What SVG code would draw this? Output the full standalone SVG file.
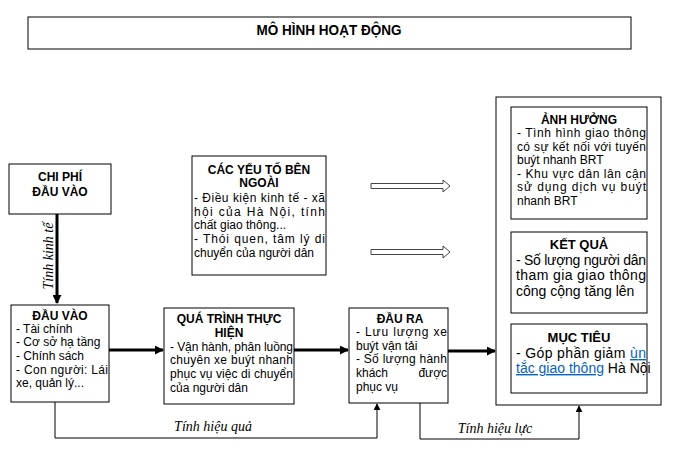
<svg xmlns="http://www.w3.org/2000/svg" width="678" height="457" viewBox="0 0 678 457">
<style>
.box{fill:#fff;stroke:#000;stroke-width:1}
.t{font-family:"Liberation Sans",Arial,sans-serif;font-size:12px;fill:#000}
.tb{font-family:"Liberation Sans",Arial,sans-serif;font-size:12px;font-weight:bold;fill:#000;text-anchor:middle}
.t14{font-family:"Liberation Sans",Arial,sans-serif;font-size:14px;fill:#000}
.tb13{font-family:"Liberation Sans",Arial,sans-serif;font-size:13px;font-weight:bold;fill:#000;text-anchor:middle}
.it{font-family:"Liberation Serif","Times New Roman",serif;font-size:14px;font-style:italic;fill:#000}
.thick{stroke:#000;stroke-width:3;fill:none}
.thin{stroke:#000;stroke-width:1;fill:none}
.hollow{fill:#fff;stroke:#444;stroke-width:1}
.link{fill:#0563C1;text-decoration:underline}
</style>
<defs>
<marker id="ah" viewBox="0 0 10 10" refX="9" refY="5" markerWidth="9" markerHeight="9" markerUnits="userSpaceOnUse" orient="auto">
<path d="M0,0 L10,5 L0,10 z" fill="#000"/>
</marker>
<marker id="as" viewBox="0 0 10 10" refX="9" refY="5" markerWidth="7" markerHeight="7" markerUnits="userSpaceOnUse" orient="auto">
<path d="M0,0 L10,5 L0,10 z" fill="#000"/>
</marker>
</defs>

<g id="title">
<rect class="box" x="28" y="17" width="603" height="32"/>
<text x="329" y="34.5" font-family="Liberation Sans, Arial, sans-serif" font-size="14" font-weight="bold" text-anchor="middle" textLength="145" lengthAdjust="spacingAndGlyphs">MÔ HÌNH HOẠT ĐỘNG</text>
</g>

<g id="connectors">
<line class="thick" x1="57" y1="214" x2="57" y2="303" marker-end="url(#ah)"/>
<line class="thick" x1="109" y1="350" x2="163" y2="350" marker-end="url(#ah)"/>
<line class="thick" x1="294" y1="350" x2="348" y2="350" marker-end="url(#ah)"/>
<line class="thick" x1="448" y1="351" x2="495" y2="351" marker-end="url(#ah)"/>
<polyline class="thin" points="55,402 55,438 377,438 377,404" marker-end="url(#as)"/>
<polyline class="thin" points="420,403 420,439 579,439 579,406" marker-end="url(#as)"/>
<polygon class="hollow" points="371,183.5 443,183.5 443,180 450,186 443,192 443,188.5 371,188.5"/>
<polygon class="hollow" points="371,249.5 443,249.5 443,246 450,252 443,258 443,254.5 371,254.5"/>
<text class="it" transform="translate(53,256) rotate(-90)" text-anchor="middle">Tính kinh tế</text>
<text class="it" x="213" y="431" text-anchor="middle">Tính hiệu quả</text>
<text class="it" x="495" y="433" text-anchor="middle">Tính hiệu lực</text>
</g>

<g id="chi-phi">
<rect class="box" x="9" y="164" width="102" height="50"/>
<text class="tb" x="60" y="181" font-size="14">CHI PHÍ</text>
<text class="tb" x="60" y="196" font-size="14">ĐẦU VÀO</text>
</g>

<g id="yeu-to">
<rect class="box" x="192" y="156" width="134" height="119"/>
<text class="tb" x="259" y="174">CÁC YẾU TỐ BÊN</text>
<text class="tb" x="259" y="187">NGOÀI</text>
<text class="t" x="194" y="202" textLength="131" lengthAdjust="spacing">- Điều kiện kinh tế - xã</text>
<text class="t" x="194" y="216" textLength="131" lengthAdjust="spacing">hội của Hà Nội, tính</text>
<text class="t" x="194" y="229">chất giao thông...</text>
<text class="t" x="194" y="243" textLength="131" lengthAdjust="spacing">- Thói quen, tâm lý di</text>
<text class="t" x="194" y="257">chuyển của người dân</text>
</g>

<g id="outer">
<rect class="box" x="496" y="97" width="165" height="308"/>
</g>

<g id="anh-huong">
<rect class="box" x="511" y="107" width="136" height="112"/>
<text class="tb" x="579" y="124">ẢNH HƯỞNG</text>
<text class="t" x="517" y="137" textLength="129" lengthAdjust="spacing">- Tình hình giao thông</text>
<text class="t" x="517" y="151" textLength="129" lengthAdjust="spacing">có sự kết nối với tuyến</text>
<text class="t" x="517" y="164">buýt nhanh BRT</text>
<text class="t" x="517" y="178" textLength="129" lengthAdjust="spacing">- Khu vực dân lân cận</text>
<text class="t" x="517" y="191" textLength="129" lengthAdjust="spacing">sử dụng dịch vụ buýt</text>
<text class="t" x="517" y="205">nhanh BRT</text>
</g>

<g id="ket-qua">
<rect class="box" x="511" y="232" width="136" height="81"/>
<text class="tb13" x="579" y="249">KẾT QUẢ</text>
<text class="t14" x="516" y="265" textLength="130" lengthAdjust="spacing">- Số lượng người dân</text>
<text class="t14" x="516" y="280" textLength="130" lengthAdjust="spacing">tham gia giao thông</text>
<text class="t14" x="516" y="296">công cộng tăng lên</text>
</g>

<g id="muc-tieu">
<rect class="box" x="511" y="324" width="136" height="69"/>
<text class="tb13" x="579" y="342">MỤC TIÊU</text>
<text class="t14" x="516" y="358" textLength="130" lengthAdjust="spacing">- Góp phần giảm <tspan class="link">ùn</tspan></text>
<text class="t14" x="516" y="373"><tspan class="link">tắc giao thông</tspan> Hà Nội</text>
</g>

<g id="dau-vao">
<rect class="box" x="11" y="305" width="98" height="97"/>
<text class="tb" x="60" y="320">ĐẦU VÀO</text>
<text class="t" x="16" y="333">- Tài chính</text>
<text class="t" x="16" y="346">- Cơ sở hạ tầng</text>
<text class="t" x="16" y="360">- Chính sách</text>
<text class="t" x="16" y="374" textLength="92" lengthAdjust="spacing">- Con người: Lái</text>
<text class="t" x="16" y="387">xe, quản lý...</text>
</g>

<g id="qua-trinh">
<rect class="box" x="164" y="308" width="130" height="96"/>
<text class="tb" x="229" y="323">QUÁ TRÌNH THỰC</text>
<text class="tb" x="229" y="337">HIỆN</text>
<text class="t" x="170" y="351" textLength="123" lengthAdjust="spacing">- Vận hành, phân luồng</text>
<text class="t" x="170" y="364" textLength="123" lengthAdjust="spacing">chuyên xe buýt nhanh</text>
<text class="t" x="170" y="378" textLength="123" lengthAdjust="spacing">phục vụ việc di chuyển</text>
<text class="t" x="170" y="392">của người dân</text>
</g>

<g id="dau-ra">
<rect class="box" x="349" y="308" width="99" height="95"/>
<text class="tb" x="400" y="323">ĐẦU RA</text>
<text class="t" x="356" y="336" textLength="91" lengthAdjust="spacing">- Lưu lượng xe</text>
<text class="t" x="356" y="350">buýt vận tải</text>
<text class="t" x="356" y="363" textLength="91" lengthAdjust="spacing">- Số lượng hành</text>
<text class="t" x="356" y="377">khách<tspan x="447" text-anchor="end">được</tspan></text>
<text class="t" x="356" y="391">phục vụ</text>
</g>
</svg>
